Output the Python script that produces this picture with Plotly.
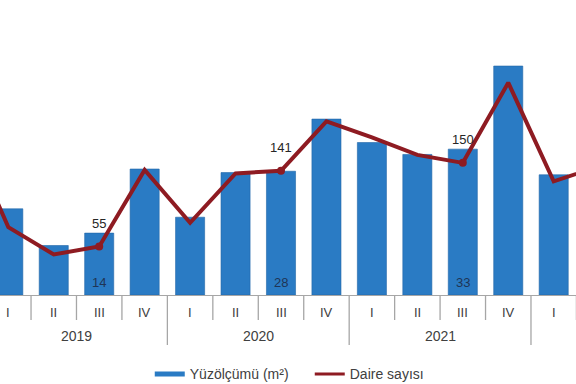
import plotly.graph_objects as go

# ---- data ----
years    = [2018, 2019, 2019, 2019, 2019, 2020, 2020, 2020, 2020, 2021, 2021, 2021, 2021, 2022, 2022]
quarters = ["IV", "I", "II", "III", "IV", "I", "II", "III", "IV", "I", "II", "III", "IV", "I", "II"]
area     = [None, 19.5, 11.2, 14, 28.5, 17.6, 27.7, 28, 39.8, 34.5, 31.8, 33, 51.8, 27.2, None]   # Yüzölçümü
dwellings = [195, 77, 46, 55, 142, 82, 138, 141, 197, 179, 159, 150, 241, 129, 146]              # Daire sayısı
labelled_quarter = "III"

BAR_C = "#2A7BC4"
LINE_C = "#8E1B22"
AX_C = "#A6A6A6"
TXT_C = "#404040"
FONT = "Liberation Sans, Arial, sans-serif"

idx = list(range(len(quarters)))
qnum = {"I": 1, "II": 2, "III": 3, "IV": 4}

fig = go.Figure()
fig.add_trace(go.Bar(x=idx, y=area, width=0.64, marker=dict(color=BAR_C, line=dict(color="#2167A8", width=0.6)),
                     showlegend=False, yaxis="y"))
fig.add_trace(go.Scatter(x=idx, y=dwellings, mode="lines", line=dict(color=LINE_C, width=4),
                         showlegend=False, yaxis="y2"))
lab_idx = [i for i in idx if quarters[i] == labelled_quarter]
fig.add_trace(go.Scatter(x=lab_idx, y=[dwellings[i] for i in lab_idx], mode="markers",
                         marker=dict(color=LINE_C, size=8), showlegend=False, yaxis="y2"))

# legend entries
fig.add_trace(go.Scatter(x=[None], y=[None], mode="lines", line=dict(color=BAR_C, width=5),
                         name="Yüzölçümü (m²)"))
fig.add_trace(go.Scatter(x=[None], y=[None], mode="lines", line=dict(color=LINE_C, width=3),
                         name="Daire sayısı"))

ann = []
for i in lab_idx:
    ann.append(dict(x=i, y=dwellings[i], xref="x", yref="y2", text=str(dwellings[i]), showarrow=False,
                    yshift=23, font=dict(size=13, color="#262626")))
    ann.append(dict(x=i, y=0, xref="x", yref="y", text=str(area[i]), showarrow=False,
                    yshift=13, font=dict(size=13, color="#1F3556")))

# quarter labels and dividers, year labels
shapes = []
for i in idx:
    ann.append(dict(x=i, y=-17 / 295, xref="x", yref="paper", text=quarters[i], showarrow=False,
                    yanchor="middle", font=dict(size=13, color=TXT_C)))
    if i < len(idx) - 1:
        year_break = years[i + 1] != years[i]
        shapes.append(dict(type="line", xref="x", yref="paper", x0=i + 0.5, x1=i + 0.5,
                           y0=0, y1=(-50 if year_break else -25) / 295,
                           line=dict(color=AX_C, width=1.3)))
for y in sorted(set(years)):
    first = [i for i in idx if years[i] == y][0]
    center = first - (qnum[quarters[first]] - 1) + 1.5
    ann.append(dict(x=center, y=-41 / 295, xref="x", yref="paper", text=str(y), showarrow=False,
                    yanchor="middle", font=dict(size=14, color=TXT_C)))

r0 = 1 - 8.3 / 45.45
fig.update_layout(
    width=576, height=384,
    margin=dict(l=0, r=0, t=0, b=89, autoexpand=False),
    paper_bgcolor="white", plot_bgcolor="white",
    font=dict(family=FONT, color=TXT_C),
    xaxis=dict(range=[r0, r0 + 576 / 45.45], showticklabels=False, showgrid=False, zeroline=False,
               showline=True, linecolor=AX_C, linewidth=1, ticks=""),
    yaxis=dict(range=[0, 295 / 4.42], visible=False, showgrid=False),
    yaxis2=dict(range=[0, 295 / 0.881], overlaying="y", visible=False, showgrid=False),
    legend=dict(orientation="h", x=0.26, xanchor="left", y=-0.215, yanchor="top",
                entrywidth=115, entrywidthmode="pixels",
                font=dict(size=14, color=TXT_C), bgcolor="rgba(0,0,0,0)"),
    annotations=ann, shapes=shapes,
    showlegend=True,
)
fig.write_html("out.html", config={"displayModeBar": False},
               post_script="document.body.style.margin='0';document.body.style.overflow='hidden';")
